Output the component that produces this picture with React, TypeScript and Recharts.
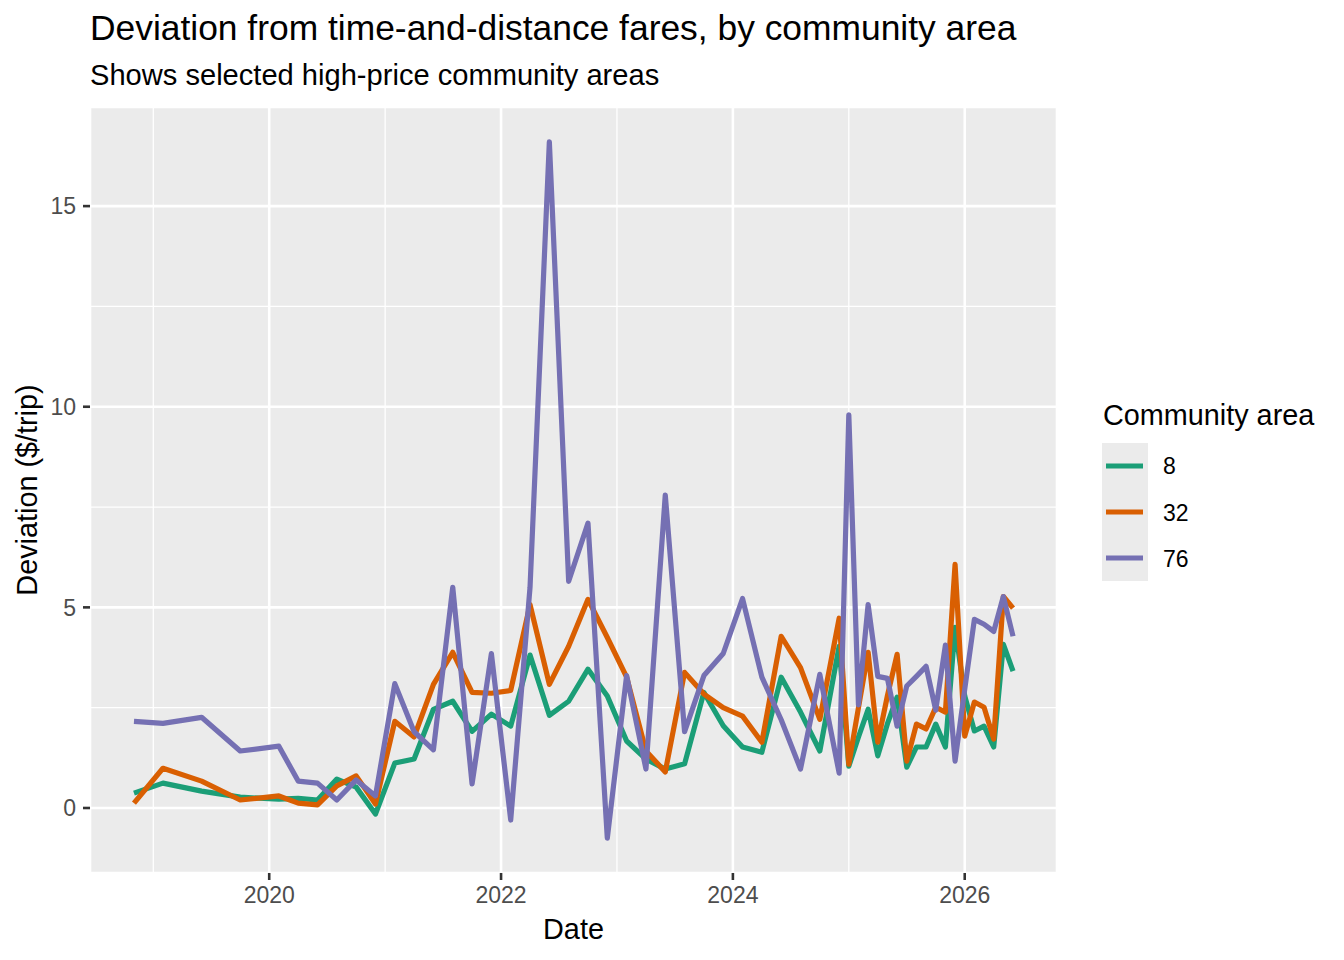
import React from "react";
import {
  LineChart,
  Line,
  XAxis,
  YAxis,
  CartesianGrid,
  ReferenceLine,
} from "recharts";

// monthly sample dates (first of month)
const dates = [
  "2018-11", "2019-02", "2019-06", "2019-10", "2020-02", "2020-04", "2020-06",
  "2020-08", "2020-10", "2020-12", "2021-02", "2021-04", "2021-06", "2021-08",
  "2021-10", "2021-12", "2022-02", "2022-04", "2022-06", "2022-08", "2022-10",
  "2022-12", "2023-02", "2023-04", "2023-06", "2023-08", "2023-10", "2023-12",
  "2024-02", "2024-04", "2024-06", "2024-08", "2024-10", "2024-12", "2025-01",
  "2025-02", "2025-03", "2025-04", "2025-05", "2025-06", "2025-07", "2025-08",
  "2025-09", "2025-10", "2025-11", "2025-12", "2026-01", "2026-02", "2026-03",
  "2026-04", "2026-05", "2026-06",
];

const area8 = [
  0.37, 0.62, 0.42, 0.27, 0.22, 0.24, 0.2, 0.72, 0.52, -0.15, 1.12, 1.22, 2.46,
  2.66, 1.91, 2.34, 2.04, 3.81, 2.31, 2.66, 3.46, 2.79, 1.67, 1.22, 0.97, 1.1,
  2.88, 2.05, 1.52, 1.39, 3.26, 2.39, 1.42, 4.03, 1.04, 1.77, 2.46, 1.3, 2.1,
  2.76, 1.02, 1.52, 1.52, 2.09, 1.52, 4.5, 2.79, 1.92, 2.04, 1.52, 4.08, 3.41,
];

const area32 = [
  0.12, 0.99, 0.67, 0.2, 0.3, 0.12, 0.08, 0.55, 0.8, 0.1, 2.16, 1.77, 3.08,
  3.88, 2.88, 2.86, 2.93, 5.07, 3.08, 4.03, 5.2, 4.25, 3.26, 1.42, 0.9, 3.38,
  2.84, 2.5, 2.29, 1.64, 4.28, 3.5, 2.21, 4.73, 1.09, 2.5, 3.88, 1.64, 2.8,
  3.83, 1.17, 2.09, 1.97, 2.51, 2.39, 6.07, 1.79, 2.64, 2.51, 1.72, 5.27, 4.98,
];

const area76 = [
  2.16, 2.11, 2.26, 1.42, 1.54, 0.67, 0.62, 0.2, 0.7, 0.3, 3.1, 1.9, 1.45, 5.5,
  0.6, 3.85, -0.3, 5.5, 16.6, 5.65, 7.1, -0.75, 3.3, 0.97, 7.8, 1.9, 3.3, 3.85,
  5.22, 3.26, 2.2, 0.97, 3.33, 0.87, 9.8, 2.57, 5.07, 3.28, 3.23, 2.04, 3.04,
  3.28, 3.53, 2.44, 4.06, 1.17, 2.96, 4.7, 4.58, 4.4, 5.27, 4.28,
];

const seriesNames = ["8", "32", "76"];
const seriesKeys = ["a8", "a32", "a76"];
const seriesColors = ["#1B9E77", "#D95F02", "#7570B3"];

const xTicks = [2020, 2022, 2024, 2026];
const xMinor = [2019, 2021, 2023, 2025];
const yTicks = [0, 5, 10, 15];
const yMinor = [2.5, 7.5, 12.5];

const toYear = (d: string) => {
  const [y, m] = d.split("-").map(Number);
  return y + (m - 1) / 12;
};

const data = dates.map((d, i) => ({
  t: toYear(d),
  a8: area8[i],
  a32: area32[i],
  a76: area76[i],
}));

const FONT = '"Liberation Sans", Arial, sans-serif';

function LegendBox() {
  return (
    <g transform="translate(1090, 390)">
      <text x={13} y={35} fontSize={28.8} fill="#000">
        Community area
      </text>
      <rect x={12} y={53} width={46} height={138} fill="#EBEBEB" />
      {seriesNames.map((name, i) => (
        <g key={name}>
          <line
            x1={16}
            x2={53}
            y1={76 + 46 * i}
            y2={76 + 46 * i}
            stroke={seriesColors[i]}
            strokeWidth={5.2}
          />
          <text x={73} y={84 + 46.5 * i} fontSize={23} fill="#000">
            {name}
          </text>
        </g>
      ))}
    </g>
  );
}

export default function App() {
  return (
    <div
      style={{
        position: "absolute",
        left: 0,
        top: 0,
        width: 1344,
        height: 960,
        background: "#fff",
        fontFamily: FONT,
      }}
    >
      <LineChart
        width={1344}
        height={960}
        data={data}
        margin={{ top: 107, right: 287, bottom: 0, left: 0 }}
      >
        <CartesianGrid
          fill="#EBEBEB"
          stroke="#fff"
          strokeWidth={2.6}
          horizontal
          vertical
        />
        {yMinor.map((v) => (
          <ReferenceLine key={"y" + v} y={v} stroke="#fff" strokeWidth={1.3} />
        ))}
        {xMinor.map((v) => (
          <ReferenceLine key={"x" + v} x={v} stroke="#fff" strokeWidth={1.3} />
        ))}
        <XAxis
          dataKey="t"
          type="number"
          domain={[2018.454, 2026.796]}
          ticks={xTicks}
          allowDataOverflow
          height={87}
          axisLine={false}
          tickLine={{ stroke: "#333", strokeWidth: 2.6 }}
          tickSize={7}
          tickMargin={7}
          tick={{ fill: "#4D4D4D", fontSize: 23, fontFamily: FONT }}
          tickFormatter={(v: number) => String(v)}
        />
        <YAxis
          type="number"
          domain={[-1.62, 17.47]}
          ticks={yTicks}
          allowDataOverflow
          width={90}
          axisLine={false}
          tickLine={{ stroke: "#333", strokeWidth: 2.6 }}
          tickSize={7}
          tickMargin={7}
          tick={{ fill: "#4D4D4D", fontSize: 23, fontFamily: FONT }}
        />
        {seriesKeys.map((k, i) => (
          <Line
            key={k}
            type="linear"
            dataKey={k}
            name={seriesNames[i]}
            stroke={seriesColors[i]}
            strokeWidth={5.2}
            strokeLinejoin="round"
            dot={false}
            activeDot={false}
            isAnimationActive={false}
          />
        ))}
      </LineChart>
      <svg
        width={1344}
        height={960}
        style={{ position: "absolute", left: 0, top: 0, pointerEvents: "none" }}
        fontFamily={FONT}
      >
        <text x={90} y={40} fontSize={35.4} fill="#000">
          Deviation from time-and-distance fares, by community area
        </text>
        <text x={90} y={85} fontSize={29.1} fill="#000">
          Shows selected high-price community areas
        </text>
        <text x={573.5} y={939} fontSize={28.8} fill="#000" textAnchor="middle">
          Date
        </text>
        <text
          x={37}
          y={490}
          fontSize={28.8}
          fill="#000"
          textAnchor="middle"
          transform="rotate(-90, 37, 490)"
        >
          Deviation ($/trip)
        </text>
        <LegendBox />
      </svg>
    </div>
  );
}
